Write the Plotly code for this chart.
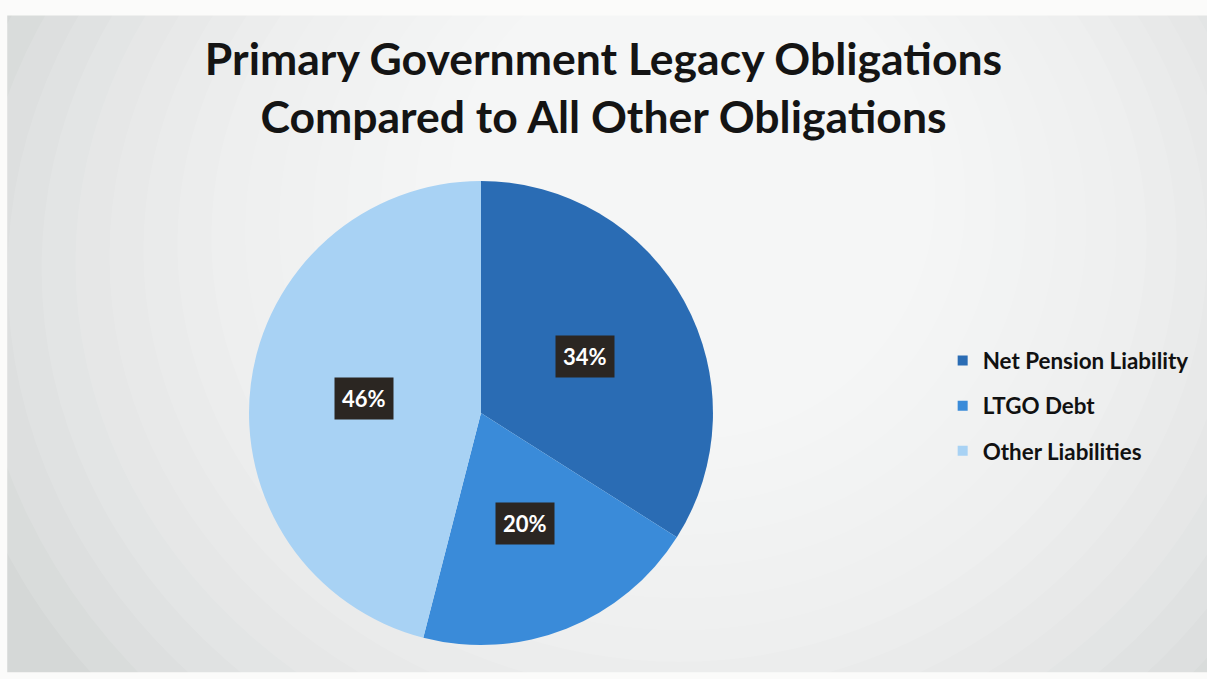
import math
import plotly.graph_objects as go

# Share of primary government obligations
labels = ["Net Pension Liability", "LTGO Debt", "Other Liabilities"]
values = [34, 20, 46]
colors = ["#2a6cb4", "#3a8bd9", "#a8d2f4"]

W, H = 1207, 679
title_text = "Primary Government Legacy Obligations<br>Compared to All Other Obligations"

# Pie placement (paper fraction)
dom_x = [0.2063, 0.5907]
dom_y = [0.0501, 0.7334]

fig = go.Figure()

# Soft page shading: layered translucent ellipses brighten the upper middle
shapes = []
steps = 16
for i in range(steps):
    f = i / steps
    shapes.append(dict(
        type="circle", xref="paper", yref="paper", layer="below",
        x0=-0.05 + 0.45 * f, x1=1.15 - 0.4 * f,
        y0=-0.35 + 0.75 * f, y1=1.5 - 0.45 * f,
        fillcolor="rgba(255,255,255,0.11)", line=dict(width=0),
    ))
# white page strips along the top, left and bottom edges
for x0, x1, y0, y1 in [(0, 1, 0.977, 1.0), (0, 0.006, 0, 1.0), (0, 1, 0, 0.01)]:
    shapes.append(dict(type="rect", xref="paper", yref="paper", x0=x0, x1=x1, y0=y0, y1=y1,
                       fillcolor="#fbfbfa", line=dict(width=0), layer="below"))

fig.add_trace(go.Pie(
    labels=labels,
    values=values,
    sort=False,
    direction="clockwise",
    rotation=0,
    marker=dict(colors=colors, line=dict(width=0)),
    textinfo="none",
    hoverinfo="label+percent",
    showlegend=False,
    domain=dict(x=dom_x, y=dom_y),
))

# Legend entries: one square swatch per category, each in its own group for spacing
for lab, col in zip(labels, colors):
    fig.add_trace(go.Scatter(
        x=[None], y=[None], mode="markers", name=lab,
        legendgroup=lab,
        marker=dict(symbol="square", size=10, color=col),
    ))

# Percentage labels in dark boxes at each slice's mid-angle
cx = (dom_x[0] + dom_x[1]) / 2
cy = (dom_y[0] + dom_y[1]) / 2
radius_px = min((dom_x[1] - dom_x[0]) * W, (dom_y[1] - dom_y[0]) * H) / 2
total = sum(values)
annotations = []
cum = 0
for v in values:
    mid = (cum + v / 2) / total * 2 * math.pi
    cum += v
    r = 0.51 * radius_px
    annotations.append(dict(
        x=cx + r * math.sin(mid) / W,
        y=cy + r * math.cos(mid) / H,
        xref="paper", yref="paper",
        xanchor="center", yanchor="middle",
        text=f"{round(v / total * 100)}%",
        showarrow=False,
        bgcolor="#2b2622",
        borderpad=7,
        font=dict(family="Lato", size=22, color="white", weight="bold"),
    ))

fig.update_layout(
    width=W, height=H,
    margin=dict(l=0, r=0, t=0, b=0),
    paper_bgcolor="#d5d8d7",
    plot_bgcolor="rgba(0,0,0,0)",
    xaxis=dict(visible=False),
    yaxis=dict(visible=False),
    title=dict(
        text=title_text,
        x=0.5, xanchor="center",
        y=0.889, yanchor="middle",
        font=dict(family="Lato", size=44.5, color="#141414", weight="bold"),
    ),
    showlegend=True,
    legend=dict(
        x=0.781, y=0.402, xanchor="left", yanchor="middle",
        font=dict(family="Lato", size=22.4, color="#111111", weight="bold"),
        bgcolor="rgba(0,0,0,0)",
        itemwidth=30,
        tracegroupgap=13,
    ),
    shapes=shapes,
    annotations=annotations,
)

fig.write_html("out.html")
